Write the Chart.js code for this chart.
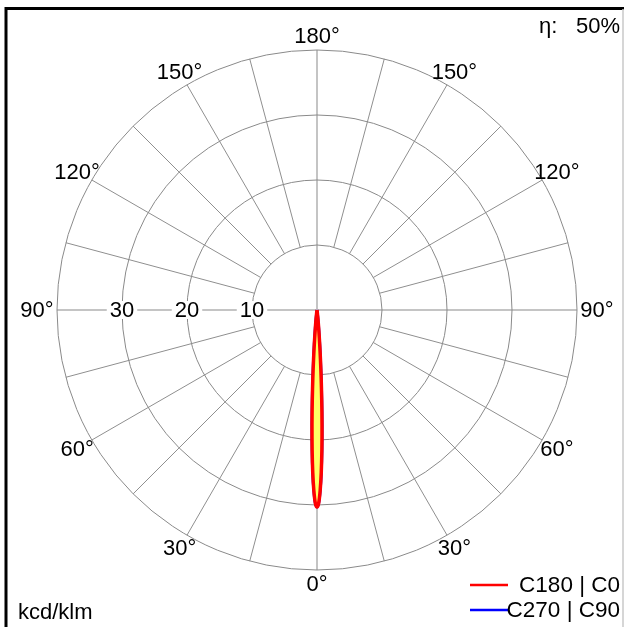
<!DOCTYPE html>
<html lang="en">
<head>
    <meta charset="UTF-8">
    <title>Polar LDC</title>
    <style>
        body {
            margin: 0;
            padding: 0;
            background-color: #fff;
            overflow: hidden;
        }
        #wrap {
            width: 625px;
            height: 627px;
        }
    </style>
    <script src="https://cdn.jsdelivr.net/npm/chart.js"></script>
</head>
<body>
    <div id="wrap">
        <canvas id="ldc" width="625" height="627"></canvas>
    </div>
    <script>
        // rings of the polar grid (kcd/klm), the outer one is not labelled
        const ringValues = [10, 20, 30, 40];
        const ringLabels = ['10', '20', '30'];
        // gamma labels, shown on both halves
        const angleLabels = [0, 30, 60, 90, 120, 150, 180];
        const spokeStep = 15;

        // gamma angles (0 = straight down) and intensities
        const gammaDeg = [0, 0.5, 1, 1.5, 2, 2.5, 3, 3.5, 4, 4.5, 5, 5.5, 6, 7, 8, 9, 10, 20, 45, 90, 135, 180];
        const c0c180 = [30.3, 29.7, 27.8, 25.0, 21.5, 17.7, 13.9, 10.5, 7.6, 5.3, 3.5, 2.2, 1.35, 0.45, 0.12, 0.03, 0, 0, 0, 0, 0, 0];
        const c90c270 = [30.3, 29.7, 27.8, 25.0, 21.5, 17.7, 13.9, 10.5, 7.6, 5.3, 3.5, 2.2, 1.35, 0.45, 0.12, 0.03, 0, 0, 0, 0, 0, 0];

        const seriesNames = ['C180 | C0', 'C270 | C90'];
        const etaText = '50%';
        const unitText = 'kcd/klm';

        // left half goes 180 -> 0, right half 0 -> 180
        function toPoints(vals) {
            var pts = [];
            for (var i = gammaDeg.length - 1; i >= 0; i--) {
                var a = gammaDeg[i] * Math.PI / 180;
                pts.push({ x: -vals[i] * Math.sin(a), y: -vals[i] * Math.cos(a) });
            }
            for (var j = 1; j < gammaDeg.length; j++) {
                var b = gammaDeg[j] * Math.PI / 180;
                pts.push({ x: vals[j] * Math.sin(b), y: -vals[j] * Math.cos(b) });
            }
            return pts;
        }

        const FONT = '"Liberation Sans", Arial, sans-serif';

        const polarGrid = {
            id: 'polarGrid',
            beforeDatasetsDraw(chart) {
                const ctx = chart.ctx;
                const xs = chart.scales.x, ys = chart.scales.y;
                const cx = xs.getPixelForValue(0), cy = ys.getPixelForValue(0);
                const rad = v => xs.getPixelForValue(v) - cx;
                const rMax = rad(ringValues[ringValues.length - 1]);
                const rMin = rad(ringValues[0]);
                ctx.save();

                // spokes
                ctx.strokeStyle = '#8f8f8f';
                ctx.lineWidth = 1;
                for (var g = 0; g < 360; g += spokeStep) {
                    if (g % 90 === 0) continue;
                    var a = g * Math.PI / 180;
                    ctx.beginPath();
                    ctx.moveTo(cx + rMin * Math.sin(a), cy + rMin * Math.cos(a));
                    ctx.lineTo(cx + rMax * Math.sin(a), cy + rMax * Math.cos(a));
                    ctx.stroke();
                }
                // main axes
                ctx.strokeStyle = '#c4c4c4';
                ctx.lineWidth = 2;
                ctx.beginPath();
                ctx.moveTo(cx - rMax, cy); ctx.lineTo(cx + rMax, cy);
                ctx.moveTo(cx, cy - rMax); ctx.lineTo(cx, cy + rMax);
                ctx.stroke();

                // rings
                ctx.strokeStyle = '#8a8a8a';
                ctx.lineWidth = 1;
                ringValues.forEach(v => {
                    ctx.beginPath();
                    ctx.arc(cx, cy, rad(v), 0, Math.PI * 2);
                    ctx.stroke();
                });

                // ring labels on the left axis
                ctx.font = '22px ' + FONT;
                ctx.textAlign = 'center';
                ctx.textBaseline = 'middle';
                ringLabels.forEach((t, i) => {
                    var x = cx - rad(ringValues[i]);
                    var w = ctx.measureText(t).width + 6;
                    ctx.fillStyle = '#fff';
                    ctx.fillRect(x - w / 2, cy - 9, w, 18);
                    ctx.fillStyle = '#000';
                    ctx.fillText(t, x, cy + 1);
                });

                // gamma labels
                angleLabels.forEach(g => {
                    var a = g * Math.PI / 180;
                    var rl = rMax + 20 - 6 * Math.abs(Math.cos(a));
                    var sides = (g === 0 || g === 180) ? [1] : [-1, 1];
                    sides.forEach(s => {
                        ctx.fillStyle = '#000';
                        ctx.fillText(g + '\u00b0', cx + s * rl * Math.sin(a), cy + rl * Math.cos(a) + 1);
                    });
                });
                ctx.restore();
            },
            afterDraw(chart) {
                const ctx = chart.ctx;
                ctx.save();
                // frame
                ctx.strokeStyle = '#000';
                ctx.lineWidth = 3;
                ctx.beginPath();
                ctx.moveTo(6, 627); ctx.lineTo(6, 8.5); ctx.lineTo(624, 8.5);
                ctx.stroke();
                ctx.strokeStyle = '#c8c8c8';
                ctx.lineWidth = 1.5;
                ctx.beginPath();
                ctx.moveTo(623, 9); ctx.lineTo(623, 627);
                ctx.stroke();

                ctx.fillStyle = '#000';
                ctx.font = '22px ' + FONT;
                ctx.textBaseline = 'alphabetic';
                ctx.textAlign = 'left';
                ctx.fillText('\u03b7:', 539, 33);
                ctx.textAlign = 'right';
                ctx.fillText(etaText, 620, 33);
                ctx.textAlign = 'left';
                ctx.fillText(unitText, 18, 619);

                // legend
                const ds = chart.data.datasets;
                const rowY = [585, 610];
                ds.forEach((d, i) => {
                    ctx.strokeStyle = d.borderColor;
                    ctx.lineWidth = 2.5;
                    ctx.beginPath();
                    ctx.moveTo(470, rowY[i]); ctx.lineTo(508, rowY[i]);
                    ctx.stroke();
                    ctx.fillStyle = '#000';
                    ctx.textAlign = 'right';
                    ctx.textBaseline = 'middle';
                    ctx.font = '22.5px ' + FONT;
                    ctx.fillText(d.label, 620, rowY[i] + 1);
                });
                ctx.restore();
            }
        };

        new Chart(document.getElementById('ldc'), {
            type: 'scatter',
            data: {
                datasets: [{
                    label: seriesNames[0],
                    data: toPoints(c0c180),
                    showLine: true,
                    borderColor: '#ff0000',
                    borderWidth: 3.5,
                    borderJoinStyle: 'round',
                    backgroundColor: '#ffff66',
                    fill: 'shape',
                    pointRadius: 0,
                    tension: 0.3,
                    clip: false,
                    order: 0
                }, {
                    label: seriesNames[1],
                    data: toPoints(c90c270),
                    showLine: true,
                    borderColor: '#0000ff',
                    borderWidth: 3,
                    borderJoinStyle: 'round',
                    fill: false,
                    pointRadius: 0,
                    tension: 0.3,
                    clip: false,
                    order: 1
                }]
            },
            options: {
                responsive: false,
                animation: false,
                layout: { padding: { left: 57, right: 48, top: 50, bottom: 57 } },
                scales: {
                    x: { type: 'linear', min: -40, max: 40, display: false },
                    y: { type: 'linear', min: -40, max: 40, display: false }
                },
                plugins: {
                    legend: { display: false },
                    tooltip: { enabled: false }
                }
            },
            plugins: [polarGrid]
        });
    </script>
</body>
</html>
